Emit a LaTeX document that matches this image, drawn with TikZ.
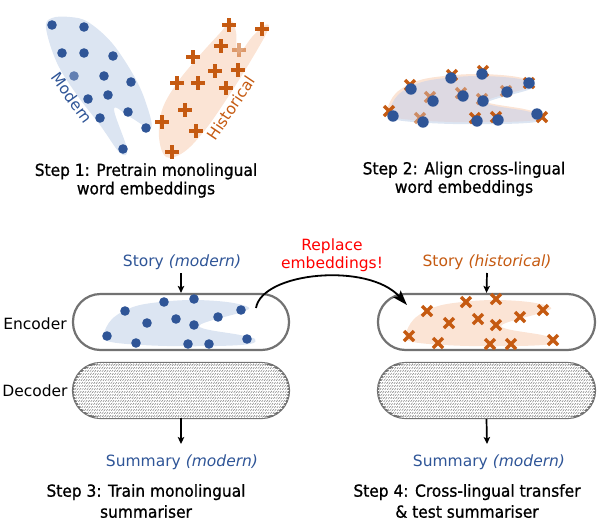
\documentclass[tikz,border=0pt]{standalone}
\usepackage{fontspec}
\setmainfont{DejaVu Sans}
\newfontfamily\titlefont[FakeStretch=0.93,FakeBold=0.9]{DejaVu Sans}
\usetikzlibrary{arrows.meta,patterns.meta}
\definecolor{dblue}{HTML}{2F5597}
\definecolor{dorange}{HTML}{C55A11}
\definecolor{lblue}{HTML}{DCE5F2}
\definecolor{lpeach}{HTML}{FBE4D5}
\definecolor{lmix}{HTML}{DDD9E2}
\definecolor{boxgray}{HTML}{727272}
\newcommand\fs{\fontsize{15.5}{18.3}\selectfont}
\newcommand\fst{\titlefont\fontsize{16.6}{18.4}\selectfont}
\newcommand\fsb{\titlefont\fontsize{16.6}{21}\selectfont}
\tikzset{
  txt/.style={font=\fs, inner sep=0pt},
  titletxt/.style={inner sep=0pt, align=center, font=\fst},
  encbox/.style={draw=boxgray, line width=2.2pt, rounded corners=27.5pt, minimum width=216pt, minimum height=56pt, inner sep=0pt},
  decbox/.style={encbox, minimum height=55pt, preaction={fill=white}, pattern={Lines[angle=55,distance=2pt,line width=0.55pt]}, pattern color=gray!95, postaction={pattern={Lines[angle=0,distance=3pt,line width=0.5pt]}, pattern color=white}},
  arr/.style={line width=1.7pt, -{Stealth[length=7pt,width=6.5pt,inset=1.5pt]}},
  bigarr/.style={line width=1.8pt, -{Stealth[length=15pt,width=10pt,inset=3pt]}},
  plusmark/.pic={\draw[dorange, line width=3.4pt] (-7,0) -- (7,0) (0,-7) -- (0,7);},
  xmark/.pic={\draw[dorange, line width=3.3pt] (-5,-5) -- (5,5) (-5,5) -- (5,-5);},
  bdot/.pic={\fill[dblue] (0,0) circle[radius=4.8];},
  bigdot/.pic={\fill[dblue] (0,0) circle[radius=5.7];},
}
\begin{document}
\begin{tikzpicture}[x=1pt,y=-1pt]
\useasboundingbox (0,0) rectangle (598,528);

% ---------- Step 1 ----------
\fill[lblue] plot[smooth cycle, tension=0.6] coordinates {(46,28) (52,18) (70,17) (88,22) (112,43) (134,76) (146,103) (151,128) (130,117) (114,109) (127,149) (120,153) (100,125) (77,95) (57,63)};
\fill[lpeach] plot[smooth cycle, tension=0.6] coordinates {(166,157) (159,137) (162,110) (177,83) (200,55) (220,33) (231,21) (236,32) (238,54) (252,37) (265,25) (268,30) (250,62) (228,97) (205,130) (184,152)};
\node[txt, text=dblue, rotate=-54] (modern) at (72,98) {Modern};
\node[txt, text=dorange, rotate=56] (hist) at (231,108) {Historical};
\foreach \p in {(52,25),(84,27),(62,53),(84,53),(113,56),(104,76),(131,82),(88,99),(108,95),(128,112),(100,118),(146,128),(123,149)}
  \pic at \p {bdot};
\pic[opacity=0.7] at (74,76) {bdot};
\foreach \p in {(229,25),(262,29),(221,46),(193,57),(215,71),(238,70),(177,83),(198,83),(226,88),(185,110),(162,122),(196,131),(172,152)}
  \pic at \p {plusmark};
\pic[opacity=0.55] at (239,50) {plusmark};
\node[titletxt] (t1) at (146,180.5) {Step 1: Pretrain monolingual\\word embeddings};

% ---------- Step 2 ----------
\foreach \dx/\dy/\c in {286/-222/lblue, 284/-226/lpeach, 286/-224/lmix}
  \fill[\c, shift={(\dx,\dy)}] plot[smooth cycle, tension=0.6] coordinates {(103,336) (112,319) (133,307) (160,302) (193,300) (227,302) (248,307) (242,312) (199,326) (240,335) (255,339) (250,344) (217,346) (167,346) (127,344) (107,341)};
\foreach \x/\y/\ox/\oy/\o in {411/89/-1/-4/1, 451/78/1/-3/1, 482/74/1/-3/1, 529/83/0/0/1, 507/92/-1/-1/0.6, 463/96/-2/-3/0.6, 483/101/-1/-2/0.6, 433/101/-3/-4/0.6, 393/116/-4/-5/1, 423/122/-3/-4/0.6, 477/121/-2/-3/1, 498/120/-2/-3/1, 537/114/5/3/1}
  \pic[opacity=\o] at (\x+\ox,\y+\oy) {xmark};
\foreach \x/\y in {411/89, 451/78, 482/74, 529/83, 507/92, 463/96, 483/101, 433/101, 393/116, 423/122, 477/121, 498/120, 537/114}
  \pic at (\x,\y) {bigdot};
\node[titletxt] (t2) at (464,179) {Step 2: Align cross-lingual\\word embeddings};

% ---------- Step 3 ----------
\node[encbox] (enc1) at (181,322) {};
\node[decbox] (dec1) at (181,390.5) {};
\fill[lblue] plot[smooth cycle, tension=0.6] coordinates {(103,336) (112,319) (133,307) (160,302) (193,300) (227,302) (248,307) (242,312) (199,326) (240,335) (255,339) (250,344) (217,346) (167,346) (127,344) (107,341)};
\foreach \p in {(125,311),(164,302),(194,299),(241,310),(218,317),(176,319),(147,323),(194,325),(107,336),(136,343),(188,344),(209,344),(247,339)}
  \pic at \p {bdot};
\node[txt] (labenc) at (35,324) {Encoder};
\node[txt] (labdec) at (35,391) {Decoder};
\node[txt, text=dblue] (story1) at (182,262) {Story \textit{(modern)}};
\node[txt, text=dblue] (sum1) at (182,462) {Summary \textit{(modern)}};
\coordinate (s1) at (181,273);
\coordinate (a1) at (181,444);
\draw[arr] (s1) -- (enc1.north);
\draw[arr] (dec1.south) -- (a1);
\node[titletxt, font=\fsb] (t3) at (146,501) {Step 3: Train monolingual\\summariser};

% ---------- Step 4 ----------
\node[encbox, minimum width=217pt] (enc2) at (486.5,322) {};
\node[decbox, minimum width=217pt] (dec2) at (486.5,390.5) {};
\fill[lpeach, shift={(302,0)}] plot[smooth cycle, tension=0.6] coordinates {(103,336) (112,319) (133,307) (160,302) (193,300) (227,302) (248,307) (242,312) (199,326) (240,335) (255,339) (250,344) (217,346) (167,346) (127,344) (107,341)};
\foreach \p in {(427,311),(466,302),(496,299),(543,310),(520,317),(478,319),(449,323),(496,325),(409,336),(438,343),(490,344),(511,344),(553,340)}
  \pic at \p {xmark};
\node[txt, text=dorange] (story2) at (487,262) {Story \textit{(historical)}};
\node[txt, text=dblue] (sum2) at (489,462) {Summary \textit{(modern)}};
\coordinate (s2) at (487,273);
\coordinate (a2) at (487,444);
\draw[arr] (s2) -- (enc2.north);
\draw[arr] (dec2.south) -- (a2);
\node[titletxt, font=\fsb] (t4) at (467,501) {Step 4: Cross-lingual transfer\\\& test summariser};

% ---------- Replace arrow ----------
\node[txt, align=center, text=red] (repl) at (332,255.5) {Replace\\embeddings!};
\coordinate (rs) at (256,308);
\coordinate (re) at (407,305);
\draw[bigarr] (rs) .. controls (262,272) and (368,262) .. (re);
\end{tikzpicture}
\end{document}
